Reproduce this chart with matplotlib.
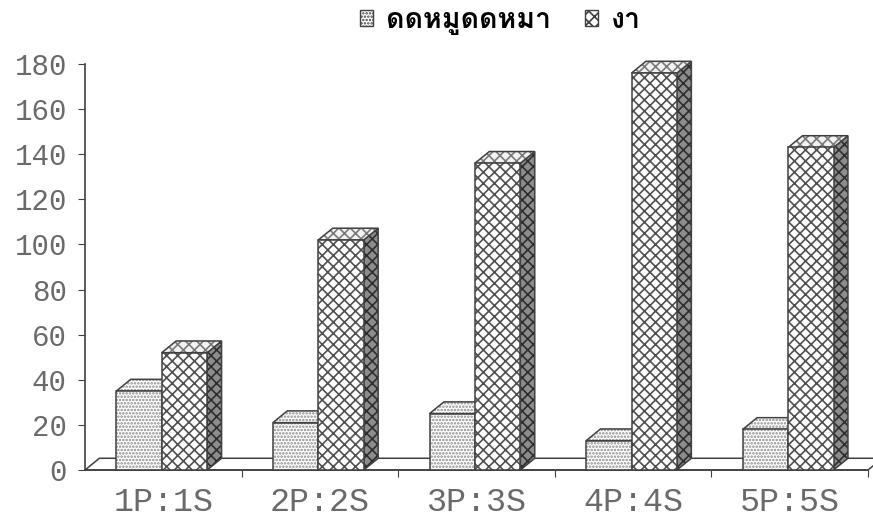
import matplotlib
matplotlib.use('Agg')
import matplotlib.pyplot as plt
from matplotlib.patches import Polygon, Patch

categories = ['1P:1S', '2P:2S', '3P:3S', '4P:4S', '5P:5S']
series_names = ['ดดหมูดดหมา', 'งา']
dotted_vals = [35, 21, 25, 13, 18]
cross_vals = [52, 102, 136, 176, 143]
y_ticks = [0, 20, 40, 60, 80, 100, 120, 140, 160, 180]

plt.rcParams['hatch.linewidth'] = 1.2

fig = plt.figure(figsize=(8.73, 5.2), dpi=100)
ax = fig.add_axes([85 / 873, 50 / 520, 783 / 873, 406 / 520])
ax.set_xlim(0, 5)
ax.set_ylim(0, 180)

edge = '#404040'
dx, dy = 0.092, 5.2   # depth offset of the pseudo-3D faces
w = 0.29              # bar width


def face(pts, fc, hatch, hc, z):
    ax.add_patch(Polygon(pts, closed=True, facecolor=fc, edgecolor=hc, hatch=hatch,
                         lw=0, clip_on=False, zorder=z))
    ax.add_patch(Polygon(pts, closed=True, fill=False, edgecolor=edge, lw=1.1,
                         clip_on=False, zorder=z))


# floor
face([(0, 0), (5, 0), (5 + dx, dy), (dx, dy)], 'white', None, edge, 1)

for i in range(len(categories)):
    c = i + 0.5
    # dotted series: top + front
    xl, v = c - 0.30, dotted_vals[i]
    face([(xl, v), (xl + w, v), (xl + w + dx, v + dy), (xl + dx, v + dy)],
         'white', '.....', '#8a8a8a', 2)
    face([(xl, 0), (xl + w, 0), (xl + w, v), (xl, v)], 'white', '.....', '#8a8a8a', 3)
    # cross-hatched series: side + top + front
    xl, v = c - 0.01, cross_vals[i]
    face([(xl + w, 0), (xl + w + dx, dy), (xl + w + dx, v + dy), (xl + w, v)],
         '#8c8c8c', 'xxx', '#2e2e2e', 4)
    face([(xl, v), (xl + w, v), (xl + w + dx, v + dy), (xl + dx, v + dy)],
         '#f2f2f2', 'xxx', '#7a7a7a', 4)
    face([(xl, 0), (xl + w, 0), (xl + w, v), (xl, v)], 'white', 'xxx', '#505050', 5)

for s in ['top', 'right']:
    ax.spines[s].set_visible(False)
for s in ['left', 'bottom']:
    ax.spines[s].set_color('#404040')
    ax.spines[s].set_linewidth(1.2)

mono = 'Liberation Mono'
ax.set_yticks(y_ticks)
ax.set_yticklabels([str(t) for t in y_ticks], family=mono, fontsize=21, color='#6a6a6a')
ax.set_xticks([1, 2, 3, 4, 5])
ax.set_xticklabels([])
ax.set_xticks([i + 0.5 for i in range(5)], minor=True)
ax.set_xticklabels(categories, minor=True, family=mono, fontsize=24, color='#6a6a6a')
ax.tick_params(axis='x', which='minor', length=0, pad=12)
ax.tick_params(axis='both', which='major', direction='out', length=5, color='#404040')
ax.tick_params(axis='y', pad=8)

handles = [Patch(facecolor='white', edgecolor=edge, hatch='.....'),
           Patch(facecolor='white', edgecolor=edge, hatch='xxx')]
fig.legend(handles, series_names, loc='center', bbox_to_anchor=(0.573, 0.958), ncol=2,
           frameon=False, handlelength=0.46, handleheight=0.46,
           handletextpad=0.45, columnspacing=1.2,
           prop={'family': ['Loma', 'Sarabun', 'DejaVu Sans'], 'size': 20.5, 'weight': 'bold'})

fig.savefig('out.png', dpi=100)
